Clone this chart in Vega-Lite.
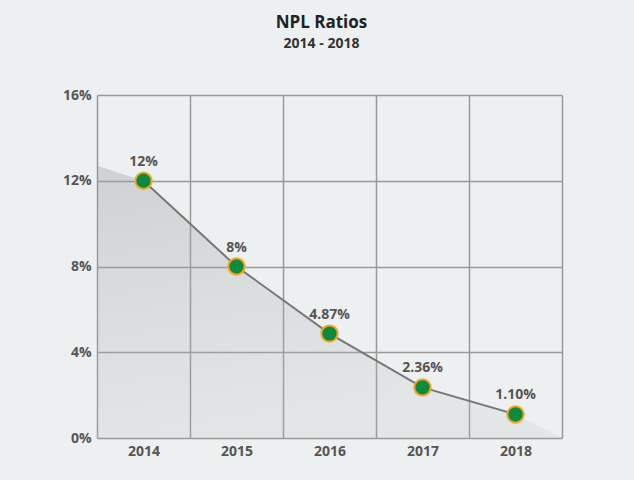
{
  "$schema": "https://vega.github.io/schema/vega-lite/v6.json",
  "width": 465,
  "height": 343,
  "autosize": {"type": "none"},
  "padding": {"left": 97, "top": 95, "right": 72, "bottom": 42},
  "background": "#edf0f0",
  "config": {
    "font": "Open Sans",
    "view": {"stroke": null}
  },
  "title": {
    "text": "NPL Ratios",
    "subtitle": "2014 - 2018",
    "anchor": "middle",
    "dx": -8,
    "offset": 36,
    "fontSize": 17,
    "fontWeight": "bold",
    "color": "#222222",
    "subtitleFontSize": 14,
    "subtitleFontWeight": "bold",
    "subtitleColor": "#333333",
    "subtitlePadding": 5
  },
  "datasets": {
    "npl": [
      {"year": "2014", "ratio": 12, "label": "12%"},
      {"year": "2015", "ratio": 8, "label": "8%"},
      {"year": "2016", "ratio": 4.87, "label": "4.87%"},
      {"year": "2017", "ratio": 2.36, "label": "2.36%"},
      {"year": "2018", "ratio": 1.1, "label": "1.10%"}
    ],
    "shade": [
      {"pos": 0, "ratio": 12.7},
      {"pos": 0.5, "ratio": 12},
      {"pos": 1.5, "ratio": 8},
      {"pos": 2.5, "ratio": 4.87},
      {"pos": 3.5, "ratio": 2.36},
      {"pos": 4.5, "ratio": 1.1},
      {"pos": 5, "ratio": 0}
    ]
  },
  "layer": [
    {
      "data": {"name": "shade"},
      "mark": {
        "type": "area",
        "fill": {
          "gradient": "linear",
          "x1": 0, "y1": 0, "x2": 0.3, "y2": 1,
          "stops": [
            {"offset": 0, "color": "rgba(150,155,155,0.36)"},
            {"offset": 1, "color": "rgba(180,185,185,0.18)"}
          ]
        }
      },
      "encoding": {
        "x": {"field": "pos", "type": "quantitative", "scale": {"domain": [0, 5], "nice": false, "zero": false}, "axis": null},
        "y": {
          "field": "ratio", "type": "quantitative", "scale": {"domain": [0, 16]},
          "axis": {
            "title": null, "values": [0, 4, 8, 12, 16], "labelExpr": "datum.value + '%'",
            "grid": true, "gridColor": "#999999", "gridWidth": 1.5, "gridOpacity": 1,
            "ticks": false, "domain": false,
            "labelFont": "Open Sans", "labelFontSize": 14, "labelFontWeight": "bold",
            "labelColor": "#555555", "labelPadding": 6
          }
        }
      }
    },
    {
      "data": {"name": "npl"},
      "layer": [
        {
          "mark": {"type": "line", "color": "#777777", "strokeWidth": 2},
          "encoding": {
            "x": {
              "field": "year", "type": "ordinal",
              "scale": {"paddingInner": 0, "paddingOuter": 0},
              "axis": {
                "title": null, "grid": true, "gridColor": "#999999", "gridWidth": 1.5, "gridOpacity": 1,
                "tickBand": "extent", "ticks": false, "domain": false, "labelAngle": 0,
                "labelFont": "Open Sans", "labelFontSize": 14, "labelFontWeight": "bold",
                "labelColor": "#555555", "labelPadding": 6
              }
            },
            "y": {"field": "ratio", "type": "quantitative"}
          }
        },
        {
          "mark": {"type": "point", "shape": "circle", "filled": true, "fill": "#0e8a3e", "stroke": "#f5a623", "strokeWidth": 2, "size": 270, "opacity": 1},
          "encoding": {
            "x": {"field": "year", "type": "ordinal"},
            "y": {"field": "ratio", "type": "quantitative"}
          }
        },
        {
          "mark": {"type": "text", "dy": -19, "fontSize": 14, "fontWeight": "bold", "color": "#555555", "font": "Open Sans"},
          "encoding": {
            "x": {"field": "year", "type": "ordinal"},
            "y": {"field": "ratio", "type": "quantitative"},
            "text": {"field": "label"}
          }
        }
      ]
    }
  ],
  "resolve": {"scale": {"x": "independent"}}
}
